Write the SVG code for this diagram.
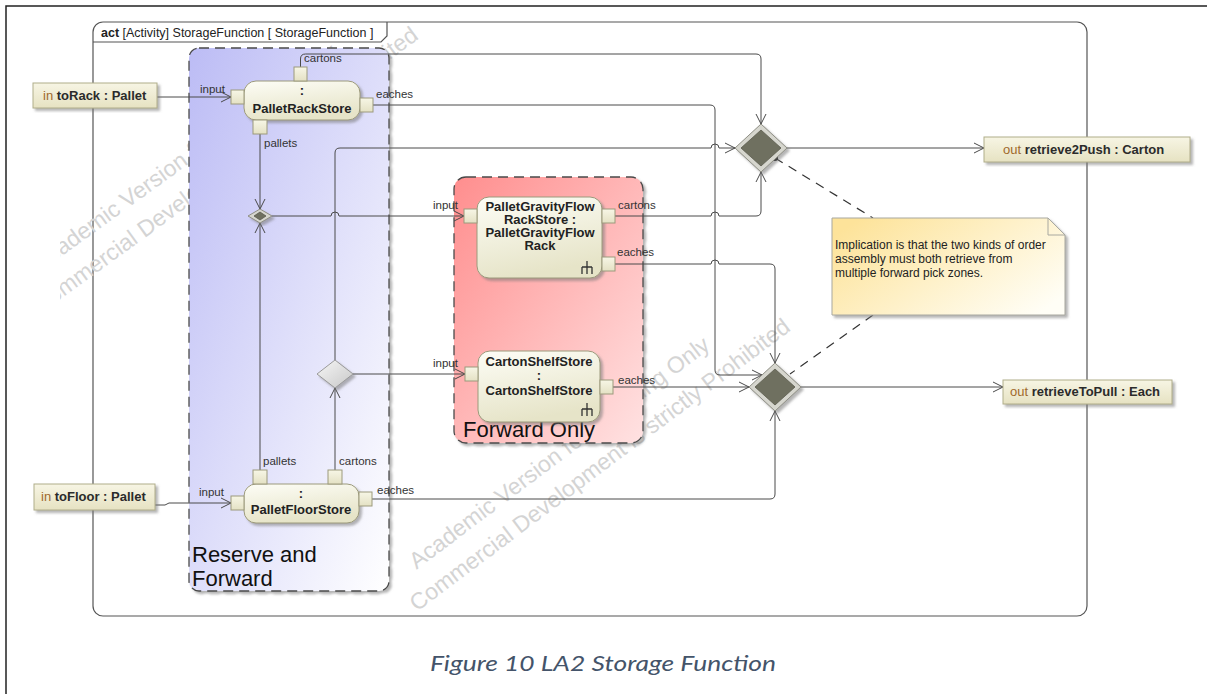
<svg xmlns="http://www.w3.org/2000/svg" width="1207" height="694" viewBox="0 0 1207 694">
  <style>
    .lbl { font-family: "Liberation Sans", Arial, sans-serif; font-size: 11.5px; fill: #333; }
    .nt { font-family: "Liberation Sans", Arial, sans-serif; font-size: 13px; font-weight: bold; fill: #222; text-anchor: middle; }
    .pt { font-family: "Liberation Sans", Arial, sans-serif; font-size: 13px; font-weight: bold; fill: #2b2b2b; }
    .kw { font-weight: normal; fill: #a0692b; }
    .wm { font-family: "Liberation Sans", Arial, sans-serif; font-size: 23px; fill: #d4d4d4; }
    .big { font-family: "Liberation Sans", Arial, sans-serif; font-size: 22px; fill: #111; }
    .cn { fill: none; stroke: #4a4a4a; stroke-width: 1; marker-end: url(#arr); }
    .act { fill: url(#gAct); stroke: #9c9a7c; stroke-width: 1; filter: url(#sh); }
    .pin { fill: url(#gPin); stroke: #9c9a7c; stroke-width: 1; }
    .par { fill: url(#gPar); stroke: #b0ad8a; stroke-width: 1; filter: url(#sh); }
    .rim { fill: #d6d6ce; stroke: #8e8e84; stroke-width: 1; filter: url(#sh); }
    .core { fill: #6f7060; stroke: #5a5a4c; stroke-width: 0.8; }
    .region { stroke: #4a4a4a; stroke-width: 1.3; stroke-dasharray: 10 6; filter: url(#sh); }
  </style>
  <defs>
    <marker id="arr" viewBox="0 0 12 12" refX="11" refY="6" markerWidth="12" markerHeight="12" markerUnits="userSpaceOnUse" orient="auto">
      <path d="M1,1 L11,6 L1,11" fill="none" stroke="#4a4a4a" stroke-width="1"/>
    </marker>
    <linearGradient id="gBlue" x1="0" y1="0" x2="1" y2="1">
      <stop offset="0" stop-color="#bcbcf5"/>
      <stop offset="1" stop-color="#ffffff"/>
    </linearGradient>
    <linearGradient id="gRed" x1="0" y1="0" x2="1" y2="1">
      <stop offset="0" stop-color="#ff8e8e"/>
      <stop offset="1" stop-color="#ffe2e2"/>
    </linearGradient>
    <linearGradient id="gAct" x1="0" y1="0" x2="0.3" y2="1">
      <stop offset="0" stop-color="#fdfdf6"/>
      <stop offset="1" stop-color="#e6e4c8"/>
    </linearGradient>
    <linearGradient id="gPin" x1="0" y1="0" x2="0" y2="1">
      <stop offset="0" stop-color="#f7f6e6"/>
      <stop offset="1" stop-color="#e4e1c4"/>
    </linearGradient>
    <linearGradient id="gPar" x1="0" y1="0" x2="0" y2="1">
      <stop offset="0" stop-color="#f7f5e4"/>
      <stop offset="1" stop-color="#e6e2c2"/>
    </linearGradient>
    <linearGradient id="gDec" x1="0" y1="0" x2="1" y2="1">
      <stop offset="0" stop-color="#f6f6f6"/>
      <stop offset="1" stop-color="#c8c8c8"/>
    </linearGradient>
    <linearGradient id="gNote" x1="0" y1="0.2" x2="1" y2="0.8">
      <stop offset="0" stop-color="#fde39a"/>
      <stop offset="1" stop-color="#fffef6"/>
    </linearGradient>
    <filter id="sh" x="-10%" y="-10%" width="130%" height="130%">
      <feDropShadow dx="2.5" dy="2.5" stdDeviation="1" flood-color="#777" flood-opacity="0.55"/>
    </filter>
    <clipPath id="wmClip">
      <rect x="60" y="22" width="1027" height="594"/>
    </clipPath>
  </defs>

  <rect x="0" y="0" width="1207" height="694" fill="#fff"/>
  <!-- page border -->
  <path d="M6,694 V6 H1207" fill="none" stroke="#222" stroke-width="1.5"/>

  <!-- activity frame -->
  <g id="frame">
    <rect x="93" y="22" width="994" height="594" rx="10" fill="#fff" stroke="#555" stroke-width="1.2"/>
    <path d="M93,42 H381 L387,36 V22" fill="none" stroke="#555" stroke-width="1.2"/>
    <text x="101" y="37" font-family="Liberation Sans, Arial, sans-serif" font-size="12.5" fill="#222"><tspan font-weight="bold">act</tspan> [Activity] StorageFunction [ StorageFunction ]</text>
  </g>

  <!-- evaluation watermark -->
  <g id="watermark" clip-path="url(#wmClip)">
    <g transform="translate(40,314) rotate(-36)">
      <text class="wm" x="25" y="-34">Academic Version for Teaching Only</text>
      <text class="wm" x="0" y="0">Commercial Development is strictly Prohibited</text>
    </g>
    <g transform="translate(417,612) rotate(-37)">
      <text class="wm" x="25" y="-34">Academic Version for Teaching Only</text>
      <text class="wm" x="0" y="0">Commercial Development is strictly Prohibited</text>
    </g>
  </g>

  <!-- partitions -->
  <g id="reserveAndForward">
    <rect class="region" x="189" y="48" width="200" height="543" rx="10" fill="url(#gBlue)"/>
    <text class="big" x="192" y="562">Reserve and</text>
    <text class="big" x="192" y="586">Forward</text>
  </g>
  <g id="forwardOnly">
    <rect class="region" x="454" y="177" width="189" height="266" rx="12" fill="url(#gRed)"/>
    <text class="big" x="463" y="437" font-size="24">Forward Only</text>
  </g>

  <!-- connectors -->
  <g id="connectors">
    <path class="cn" d="M157,97 H231"/>
    <path class="cn" d="M155,505 H165 L169,503 H231"/>
    <path class="cn" d="M300.5,67 V59 Q300.5,54 305.5,54 H756 Q761,54 761,59 V124"/>
    <path class="cn" d="M373,105 H710 Q715,105 715,110 V370 Q715,375 720,375 H762"/>
    <path class="cn" d="M260,134 V209"/>
    <path class="cn" d="M260,470 V223"/>
    <path class="cn" d="M272,216 H331 a4,4 0 0 1 8,0 H464"/>
    <path class="cn" d="M335,470 V388"/>
    <path class="cn" d="M335,360 V153 Q335,148 340,148 H711 a4,4 0 0 1 8,0 H735"/>
    <path class="cn" d="M353,374 H465"/>
    <path class="cn" d="M615,216 H711 a4,4 0 0 1 8,0 H756 Q761,216 761,211 V172"/>
    <path class="cn" d="M615,264 H711 a4,4 0 0 1 8,0 H770 Q775,264 775,269 V363"/>
    <path class="cn" d="M613,387 H749"/>
    <path class="cn" d="M372,499 H770 Q775,499 775,494 V411"/>
    <path class="cn" d="M787,148 H984"/>
    <path class="cn" d="M801,387 H1003"/>
    <path d="M775,158 L873,218" fill="none" stroke="#333" stroke-width="1.2" stroke-dasharray="9 7"/>
    <path d="M873,315 L790,374" fill="none" stroke="#333" stroke-width="1.2" stroke-dasharray="9 7"/>
    <circle cx="775" cy="158" r="3" fill="#000"/>

    <text class="lbl" x="200" y="93">input</text>
    <text class="lbl" x="304" y="62">cartons</text>
    <text class="lbl" x="376" y="98">eaches</text>
    <text class="lbl" x="264" y="147">pallets</text>
    <text class="lbl" x="263" y="465">pallets</text>
    <text class="lbl" x="339" y="465">cartons</text>
    <text class="lbl" x="377" y="494">eaches</text>
    <text class="lbl" x="199" y="496">input</text>
    <text class="lbl" x="433" y="209">input</text>
    <text class="lbl" x="618" y="209">cartons</text>
    <text class="lbl" x="617" y="256">eaches</text>
    <text class="lbl" x="433" y="367">input</text>
    <text class="lbl" x="618" y="384">eaches</text>
  </g>

  <!-- parameter nodes -->
  <g id="toRack">
    <rect class="par" x="33" y="83" width="124" height="25"/>
    <text class="pt" x="43" y="100"><tspan class="kw">in</tspan> toRack : Pallet</text>
  </g>
  <g id="toFloor">
    <rect class="par" x="34" y="484" width="121" height="26"/>
    <text class="pt" x="41" y="501"><tspan class="kw">in</tspan> toFloor : Pallet</text>
  </g>
  <g id="retrieve2Push">
    <rect class="par" x="984" y="137" width="206" height="25"/>
    <text class="pt" x="1003" y="154"><tspan class="kw">out</tspan> retrieve2Push : Carton</text>
  </g>
  <g id="retrieveToPull">
    <rect class="par" x="1003" y="380" width="169" height="24"/>
    <text class="pt" x="1010" y="396"><tspan class="kw">out</tspan> retrieveToPull : Each</text>
  </g>

  <!-- actions -->
  <g id="palletRackStore">
    <rect class="act" x="244" y="81" width="116" height="39" rx="12"/>
    <rect class="pin" x="231" y="90" width="13" height="14"/>
    <rect class="pin" x="294" y="67" width="13" height="14"/>
    <rect class="pin" x="360" y="98" width="13" height="14"/>
    <rect class="pin" x="253" y="120" width="14" height="14"/>
    <text class="nt" x="302" y="95">:</text>
    <text class="nt" x="302" y="113">PalletRackStore</text>
  </g>
  <g id="palletFloorStore">
    <rect class="act" x="244" y="484" width="115" height="39" rx="12"/>
    <rect class="pin" x="231" y="496" width="13" height="14"/>
    <rect class="pin" x="253" y="470" width="14" height="14"/>
    <rect class="pin" x="328" y="470" width="14" height="14"/>
    <rect class="pin" x="359" y="492" width="13" height="14"/>
    <text class="nt" x="301" y="498">:</text>
    <text class="nt" x="301" y="514">PalletFloorStore</text>
  </g>
  <g id="palletGravityFlowRackStore">
    <rect class="act" x="477" y="197" width="125" height="81" rx="12"/>
    <rect class="pin" x="464" y="209" width="13" height="14"/>
    <rect class="pin" x="602" y="209" width="13" height="14"/>
    <rect class="pin" x="602" y="257" width="13" height="14"/>
    <text class="nt" x="540" y="211">PalletGravityFlow</text>
    <text class="nt" x="540" y="224">RackStore :</text>
    <text class="nt" x="540" y="237">PalletGravityFlow</text>
    <text class="nt" x="540" y="250">Rack</text>
    <path d="M587,261 V274 M582,267 H592 M582,267 V274 M592,267 V274" fill="none" stroke="#333" stroke-width="1.3"/>
  </g>
  <g id="cartonShelfStore">
    <rect class="act" x="478" y="351" width="122" height="71" rx="12"/>
    <rect class="pin" x="465" y="367" width="13" height="14"/>
    <rect class="pin" x="600" y="380" width="13" height="14"/>
    <text class="nt" x="539" y="366">CartonShelfStore</text>
    <text class="nt" x="539" y="380">:</text>
    <text class="nt" x="539" y="395">CartonShelfStore</text>
    <path d="M587,403 V416 M582,409 H592 M582,409 V416 M592,409 V416" fill="none" stroke="#333" stroke-width="1.3"/>
  </g>

  <!-- control nodes -->
  <g id="palletMerge">
    <polygon class="rim" points="260,209 272,216 260,223 248,216"/>
    <polygon class="core" points="260,212 266,216 260,220 254,216"/>
  </g>
  <g id="cartonDecision">
    <polygon points="335,360 353,374 335,388 317,374" fill="url(#gDec)" stroke="#999" stroke-width="1" filter="url(#sh)"/>
  </g>
  <g id="cartonMerge">
    <polygon class="rim" points="761,124 787,148 761,172 735,148"/>
    <polygon class="core" points="761,130 781,148 761,166 741,148"/>
  </g>
  <g id="eachMerge">
    <polygon class="rim" points="775,363 801,387 775,411 749,387"/>
    <polygon class="core" points="775,369 795,387 775,405 755,387"/>
  </g>

  <!-- comment -->
  <g id="note">
    <polygon points="832,218 1048,218 1065,235 1065,315 832,315" fill="url(#gNote)" stroke="#a8a8a0" stroke-width="1" filter="url(#sh)"/>
    <polyline points="1048,218 1048,235 1065,235" fill="none" stroke="#a8a8a0" stroke-width="1"/>
    <text x="835" y="249" font-family="Liberation Sans, Arial, sans-serif" font-size="12" fill="#222">Implication is that the two kinds of order</text>
    <text x="835" y="263" font-family="Liberation Sans, Arial, sans-serif" font-size="12" fill="#222">assembly must both retrieve from</text>
    <text x="835" y="277" font-family="Liberation Sans, Arial, sans-serif" font-size="12" fill="#222">multiple forward pick zones.</text>
  </g>

  <text x="603" y="671" text-anchor="middle" font-family="Lato, 'Liberation Sans', sans-serif" font-style="italic" font-size="22" fill="#44546a" textLength="346" lengthAdjust="spacingAndGlyphs">Figure 10 LA2 Storage Function</text>
</svg>
